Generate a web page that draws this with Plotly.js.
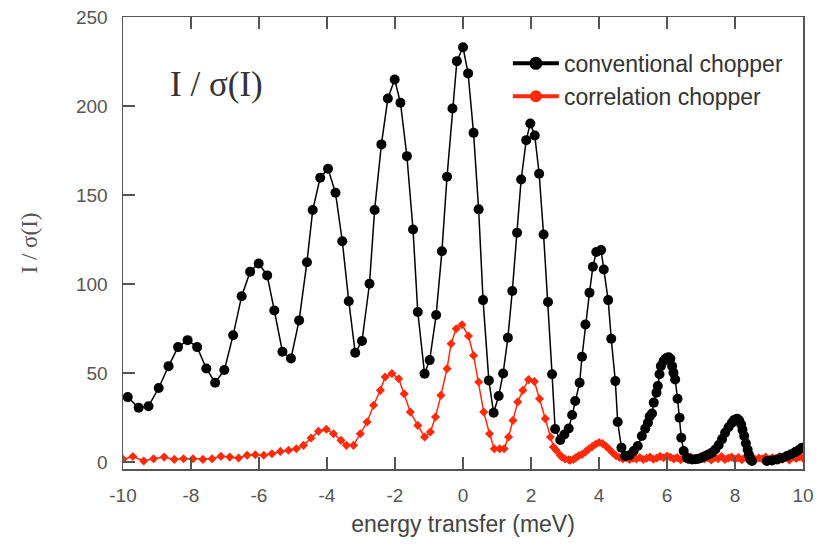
<!DOCTYPE html>
<html>
<head>
<meta charset="utf-8">
<script src="https://cdn.plot.ly/plotly-3.0.1.min.js"></script>
<style>html,body{margin:0;padding:0;background:#fff;}#chart{width:825px;height:544px;}</style>
</head>
<body>
<div id="chart"></div>
<script>
// Conventional chopper: energy transfer (meV) and I/sigma(I)
var convE = [-9.86,-9.54,-9.25,-8.95,-8.66,-8.38,-8.10,-7.82,-7.55,-7.29,-7.02,-6.76,-6.51,-6.26,-6.01,-5.76,-5.55,-5.31,-5.06,-4.82,-4.59,-4.42,-4.20,-3.97,-3.75,-3.55,-3.36,-3.17,-2.97,-2.75,-2.60,-2.40,-2.21,-2.01,-1.84,-1.65,-1.47,-1.33,-1.13,-0.98,-0.79,-0.62,-0.47,-0.31,-0.18,0.00,0.15,0.31,0.46,0.59,0.76,0.90,1.05,1.18,1.32,1.45,1.59,1.71,1.86,1.98,2.11,2.24,2.37,2.50,2.62,2.71,2.86,2.98,3.11,3.21,3.30,3.43,3.50,3.60,3.72,3.82,3.92,4.06,4.14,4.27,4.36,4.48,4.55,4.66,4.77,4.90,5.02,5.14,5.26,5.36,5.44,5.49,5.56,5.61,5.69,5.73,5.78,5.82,5.90,5.96,6.00,6.05,6.10,6.15,6.19,6.24,6.31,6.37,6.42,6.49,6.59,6.64,6.74,6.84,6.93,7.03,7.13,7.22,7.32,7.42,7.52,7.62,7.71,7.81,7.91,7.98,8.06,8.12,8.18,8.22,8.27,8.32,8.37,8.41,8.45,8.50,8.70,8.94,9.09,9.24,9.38,9.53,9.65,9.77,9.87,9.97];
var convI = [36.4,30.4,31.3,41.5,53.8,64.5,68.4,64.5,52.5,44.5,51.6,71.2,93.1,106.9,111.5,104.8,85.1,61.9,58.1,79.5,112.2,141.5,159.7,164.7,151.2,124.0,90.3,61.3,67.9,100.1,141.5,178.4,204.2,214.9,201.8,171.8,130.6,84.2,49.5,57.2,82.5,118.4,160.2,198.6,225.2,233.0,218.3,184.9,141.9,90.9,45.8,27.6,37.0,49.7,69.8,96.0,128.8,158.7,180.8,190.2,183.4,161.9,127.8,89.8,49.2,18.5,12.3,15.4,18.8,26.3,34.2,44.5,59.1,77.2,95.1,109.7,117.9,119.0,108.1,90.9,69.2,45.4,22.4,8.0,3.3,3.7,6.1,8.9,14.5,18.7,22.0,25.5,27.2,33.3,38.9,42.6,49.2,53.8,56.6,58.0,58.5,58.8,58.0,53.8,50.1,46.3,35.5,24.8,13.6,6.1,2.3,1.8,1.4,1.5,1.8,2.5,3.3,4.2,5.2,7.0,9.5,12.8,16.4,19.5,22.0,23.6,24.3,23.4,21.1,18.0,14.5,10.5,7.0,4.0,1.4,0.5,null,0.5,0.8,1.4,2.2,3.3,4.3,5.5,6.5,8.0];

// Correlation chopper
var corrE = [-10.00,-9.71,-9.39,-9.10,-8.79,-8.49,-8.22,-7.94,-7.65,-7.38,-7.12,-6.86,-6.60,-6.35,-6.11,-5.86,-5.62,-5.37,-5.13,-4.90,-4.69,-4.47,-4.25,-4.02,-3.81,-3.59,-3.43,-3.22,-3.02,-2.82,-2.63,-2.43,-2.29,-2.09,-1.89,-1.73,-1.55,-1.33,-1.13,-0.96,-0.81,-0.65,-0.47,-0.35,-0.20,-0.03,0.16,0.31,0.46,0.61,0.78,0.92,1.08,1.21,1.34,1.47,1.61,1.76,1.93,2.10,2.25,2.42,2.57,2.66,2.74,2.86,2.91,3.00,3.11,3.16,3.25,3.32,3.40,3.50,3.60,3.70,3.80,3.90,4.00,4.10,4.20,4.30,4.40,4.50,4.60,4.70,4.80,4.90,5.00,5.10,5.20,5.30,5.40,5.50,5.60,5.70,5.80,5.90,6.00,6.10,6.20,6.30,6.40,6.50,6.60,6.70,6.80,6.90,7.00,7.10,7.20,7.30,7.40,7.50,7.60,7.70,7.80,7.90,8.00,8.10,8.20,8.30,8.40,8.50,8.60,8.70,8.80,8.90,9.00,9.10,9.20,9.30,9.40,9.50,9.60,9.70,9.80,9.90,10.00];
var corrI = [1.5,3.0,0.5,1.8,2.7,1.4,1.8,1.8,1.4,1.8,3.1,2.7,2.2,3.7,4.0,3.7,4.6,5.9,6.5,7.4,9.3,13.4,17.2,18.3,15.8,12.1,9.3,9.3,15.8,22.4,31.8,40.2,47.7,49.6,46.7,38.3,28.0,20.5,14.0,16.8,25.2,37.4,52.4,66.4,74.8,77.1,70.7,59.8,44.9,28.0,15.8,7.4,7.4,7.4,14.0,23.3,33.7,40.2,46.2,45.2,35.5,24.3,14.0,8.4,6.5,3.7,2.7,1.6,1.2,0.9,1.4,2.4,3.4,4.2,5.6,7.2,8.6,9.9,10.9,10.3,8.9,7.1,5.1,3.5,2.5,1.7,2.3,1.4,2.1,1.6,2.5,1.3,2.0,2.7,1.5,2.2,3.1,2.3,3.3,2.6,1.7,2.4,1.2,2.1,1.5,2.7,1.3,2.0,2.8,1.6,2.3,1.1,2.5,1.8,3.0,1.4,2.1,2.7,1.5,2.4,1.2,2.6,1.7,2.9,1.3,2.2,1.6,2.7,1.4,2.3,1.8,3.0,1.5,2.4,1.1,2.6,1.9,2.8,2.1];

var xTickVals = [-10,-8,-6,-4,-2,0,2,4,6,8,10];
var xTickText = ["-10","-8","-6","-4","-2","0","2","4","6","8","10"];
var yTickVals = [0,50,100,150,200,250];
var yTickText = ["0","50","100","150","200","250"];
var seriesNames = ["conventional chopper","correlation chopper"];
var xTitle = "energy transfer (meV)";
var yTitle = "I / σ(I)";
var insideLabel = "I / σ(I)";

var black = "#000000";
var red = "#ff2a0a";
var axisCol = "#555555";

var traces = [
  {x: corrE, y: corrI, type: "scatter", mode: "lines+markers", showlegend: false,
   line: {color: red, width: 1.5}, marker: {symbol: "diamond", size: 7, color: red}, hoverinfo: "skip"},
  {x: convE, y: convI, type: "scatter", mode: "lines+markers", showlegend: false, connectgaps: false,
   line: {color: black, width: 1.5}, marker: {symbol: "circle", size: 10, color: black}, hoverinfo: "skip"},
  {x: [null], y: [null], type: "scatter", mode: "lines+markers", name: seriesNames[0],
   line: {color: black, width: 4}, marker: {symbol: "circle", size: 13, color: black}, legendrank: 1},
  {x: [null], y: [null], type: "scatter", mode: "lines+markers", name: seriesNames[1],
   line: {color: red, width: 4}, marker: {symbol: "circle", size: 12, color: red}, legendrank: 2}
];

var layout = {
  width: 825, height: 544,
  margin: {l: 123, r: 22, t: 17, b: 75},
  paper_bgcolor: "#ffffff", plot_bgcolor: "#ffffff",
  font: {family: "Liberation Sans, Arial, sans-serif", color: "#444"},
  showlegend: true,
  legend: {x: 0.566, y: 0.945, xanchor: "left", yanchor: "top", bgcolor: "#ffffff",
           borderwidth: 0, font: {size: 23, color: "#333"}, itemwidth: 46, tracegroupgap: 0,
           itemsizing: "trace"},
  xaxis: {range: [-10, 10], tickvals: xTickVals, ticktext: xTickText,
          ticks: "inside", ticklen: 12, tickwidth: 1.5, tickcolor: axisCol,
          showline: true, linecolor: axisCol, linewidth: 1.5, mirror: "ticks",
          showgrid: false, zeroline: false, ticklabelstandoff: 9,
          tickfont: {size: 19, color: "#555"},
          title: {text: xTitle, font: {size: 23, color: "#444"}, standoff: 10}},
  yaxis: {range: [-4, 250], tickvals: yTickVals, ticktext: yTickText,
          ticks: "inside", ticklen: 12, tickwidth: 1.5, tickcolor: axisCol,
          showline: true, linecolor: axisCol, linewidth: 1.5, mirror: true,
          showgrid: false, zeroline: false, ticklabelstandoff: 10,
          tickfont: {size: 19, color: "#555"},
          title: {text: yTitle, font: {family: "Liberation Serif, Times New Roman, serif", size: 23, color: "#555"}, standoff: 32}},
  annotations: [{x: -7.26, y: 212, xref: "x", yref: "y", text: insideLabel, showarrow: false,
                 font: {family: "Liberation Serif, Times New Roman, serif", size: 35, color: "#333"}}]
};

Plotly.newPlot("chart", traces, layout, {displayModeBar: false, staticPlot: true});
</script>
</body>
</html>
